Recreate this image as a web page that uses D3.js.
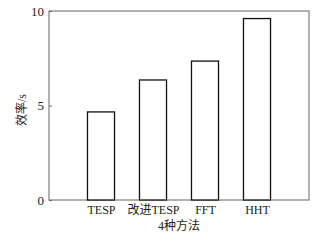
<!DOCTYPE html>
<html>
<head>
<meta charset="utf-8">
<script src="https://cdn.jsdelivr.net/npm/d3@7"></script>
<style>
  body { margin: 0; background: #fff; }
  text { font-family: "Liberation Serif", "DejaVu Serif", "Noto Sans CJK SC", serif; }
</style>
</head>
<body>
<div id="chart"></div>
<script>
// data
const methods = ["TESP", "改进TESP", "FFT", "HHT"];
const efficiency = [4.66, 6.35, 7.35, 9.6];
const yTicks = [0, 5, 10];

const width = 334;
const height = 240;
const margin = { top: 11, right: 25, bottom: 40, left: 49 };
const plot_width = width - margin.left - margin.right;
const plot_height = height - margin.top - margin.bottom;

const svg = d3.select("#chart")
    .append("svg")
    .attr("width", width)
    .attr("height", height);

const plot = svg.append("g")
    .attr("transform", `translate(${margin.left}, ${margin.top})`);

// bars sit at positions 1..4 on a 0..5 axis
const x = d3.scaleLinear().domain([0, methods.length + 1]).range([0, plot_width]);
const y = d3.scaleLinear().domain([0, 10]).range([plot_height, 0]);
const barW = (x(1) - x(0)) * 0.52;

// frame
plot.append("rect")
    .attr("x", 0).attr("y", 0)
    .attr("width", plot_width).attr("height", plot_height)
    .attr("fill", "none")
    .attr("stroke", "#666")
    .attr("stroke-width", 1);

// y axis
const yAxis = d3.axisLeft(y).tickValues(yTicks).tickSizeInner(-3).tickSizeOuter(0).tickPadding(5);
plot.append("g").call(yAxis)
    .call(g => g.select(".domain").remove())
    .call(g => g.selectAll("line").attr("stroke", "#666"))
    .call(g => g.selectAll("text").attr("font-size", 13).attr("fill", "#222")
        .style("font-family", "'Liberation Serif', serif"));

// x axis labels
const xAxis = d3.axisBottom(x).tickValues(d3.range(1, methods.length + 1))
    .tickFormat(d => methods[d - 1]).tickSize(0).tickPadding(5);
plot.append("g")
    .attr("transform", `translate(0, ${plot_height})`)
    .call(xAxis)
    .call(g => g.select(".domain").remove())
    .call(g => g.selectAll("text").attr("font-size", 12).attr("fill", "#222")
        .style("font-family", "'Liberation Serif', 'Noto Sans CJK SC', serif"));

// bars
plot.selectAll("rect.bar")
    .data(efficiency)
    .join("rect")
    .attr("class", "bar")
    .attr("x", (d, i) => x(i + 1) - barW / 2)
    .attr("y", d => y(d))
    .attr("width", barW)
    .attr("height", d => y(0) - y(d))
    .attr("fill", "#fff")
    .attr("stroke", "#111")
    .attr("stroke-width", 1.3);

// axis titles
svg.append("text")
    .attr("x", margin.left + plot_width / 2)
    .attr("y", 230)
    .attr("text-anchor", "middle")
    .attr("font-size", 12)
    .attr("fill", "#222")
    .text("4种方法");

svg.append("text")
    .attr("transform", `translate(26, 110) rotate(-90)`)
    .attr("text-anchor", "middle")
    .attr("font-size", 12)
    .attr("fill", "#222")
    .text("效率/s");
</script>
</body>
</html>
